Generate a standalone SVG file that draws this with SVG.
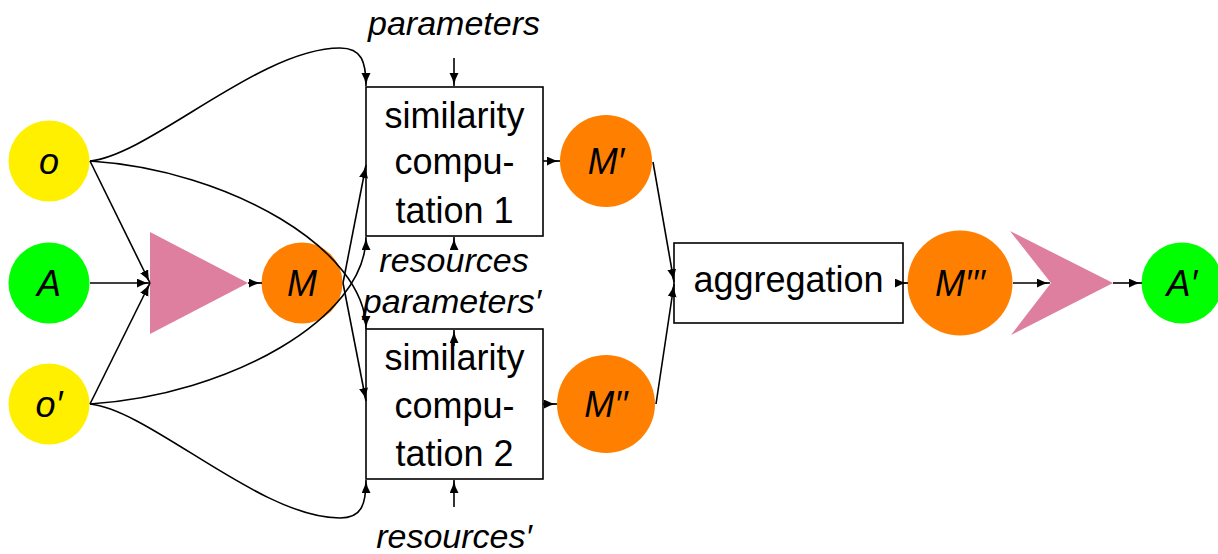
<svg xmlns="http://www.w3.org/2000/svg" width="1218" height="554" viewBox="0 0 1218 554">
  <defs>
    <marker id="arrow" markerUnits="userSpaceOnUse" markerWidth="14" markerHeight="10" refX="13" refY="4.5" orient="auto">
      <path d="M0,0 Q6,3.6 13,4.5 Q6,5.4 0,9 Z" fill="#000"/>
    </marker>
    <style>
      .lbl { font-family: "Liberation Sans", Arial, sans-serif; font-size: 36px; fill: #000; text-anchor: middle; }
      .it { font-style: italic; }
      .side { font-size: 34px; }
      .box { fill: #fff; stroke: #000; stroke-width: 1.6; }
      .yellow { fill: #FFF000; }
      .green { fill: #00FF00; }
      .orange { fill: #FF8000; }
      .pink { fill: #DE7F9F; }
      .edge { fill: none; stroke: #000; stroke-width: 1.6; marker-end: url(#arrow); }
    </style>
  </defs>

  <rect width="1218" height="554" fill="#fff"/>

  <!-- inputs -->
  <g id="o">
    <circle class="yellow" cx="49" cy="161" r="40.5"/>
    <text class="lbl it" x="49" y="174">o</text>
  </g>
  <g id="A">
    <circle class="green" cx="49" cy="283" r="40.5"/>
    <text class="lbl it" x="49" y="296">A</text>
  </g>
  <g id="o-prime">
    <circle class="yellow" cx="49" cy="404" r="40.5"/>
    <text class="lbl it" x="49" y="417">o′</text>
  </g>

  <!-- matcher step producing M -->
  <g id="match">
    <polygon class="pink" points="150,232 248,283 150,334"/>
  </g>
  <g id="M">
    <circle class="orange" cx="302" cy="283" r="40.5"/>
    <text class="lbl it" x="302" y="296">M</text>
  </g>

  <!-- similarity computations -->
  <g id="sim1">
    <rect class="box" x="366" y="87" width="177" height="149"/>
    <text class="lbl" x="454.5" y="128">similarity</text>
    <text class="lbl" x="454.5" y="174">compu-</text>
    <text class="lbl" x="454.5" y="223">tation 1</text>
  </g>
  <g id="sim2">
    <rect class="box" x="366" y="329" width="177" height="150"/>
    <text class="lbl" x="454.5" y="370">similarity</text>
    <text class="lbl" x="454.5" y="418">compu-</text>
    <text class="lbl" x="454.5" y="466">tation 2</text>
  </g>

  <g id="parameters"><text class="lbl it side" x="454" y="35">parameters</text></g>
  <g id="resources"><text class="lbl it side" x="454" y="272">resources</text></g>
  <g id="parameters-prime"><text class="lbl it side" x="452" y="313">parameters′</text></g>
  <g id="resources-prime"><text class="lbl it side" x="454" y="548">resources′</text></g>

  <g id="M1">
    <circle class="orange" cx="606" cy="161" r="46"/>
    <text class="lbl it" x="606" y="174">M′</text>
  </g>
  <g id="M2">
    <circle class="orange" cx="606" cy="404" r="49"/>
    <text class="lbl it" x="606" y="417">M′′</text>
  </g>

  <g id="aggregation">
    <rect class="box" x="674" y="243" width="229" height="80"/>
    <text class="lbl" x="788.5" y="292">aggregation</text>
  </g>

  <g id="M3">
    <circle class="orange" cx="960" cy="283" r="52.5"/>
    <text class="lbl it" x="960" y="296">M′′′</text>
  </g>

  <g id="extract">
    <polygon class="pink" points="1010,231 1113,283 1011,335 1051,283"/>
  </g>

  <g id="A-prime">
    <circle class="green" cx="1182" cy="283" r="40.5"/>
    <text class="lbl it" x="1182" y="296">A′</text>
  </g>

  <!-- connectors -->
  <g id="connectors">
    <path class="edge" d="M90,161 C150,155 260,48 340,48 C362,48 366,62 366,86"/>
    <path class="edge" d="M90,161 C230,170 366,250 366,329"/>
    <path class="edge" d="M90,161 L150,283"/>
    <path class="edge" d="M90,283 L150,283"/>
    <path class="edge" d="M90,404 L150,283"/>
    <path class="edge" d="M90,404 C230,395 366,318 366,237"/>
    <path class="edge" d="M90,404 C150,410 260,518 340,518 C362,518 366,504 366,480"/>
    <path class="edge" d="M248,283 L262,283"/>
    <path class="edge" d="M343,283 L366,165"/>
    <path class="edge" d="M343,283 L366,401"/>
    <path class="edge" d="M454,58 L454,86"/>
    <path class="edge" d="M454,250 L454,237"/>
    <path class="edge" d="M454,346 L454,330"/>
    <path class="edge" d="M454,507 L454,480"/>
    <path class="edge" d="M543,161 L560,161"/>
    <path class="edge" d="M543,404 L557,404"/>
    <path class="edge" d="M653,162 L674,282"/>
    <path class="edge" d="M656,404 L674,284"/>
    <path class="edge" d="M903,283 L908,283"/>
    <path class="edge" d="M1013,283 L1050,283"/>
    <path class="edge" d="M1113,283 L1142,283"/>
  </g>
</svg>
